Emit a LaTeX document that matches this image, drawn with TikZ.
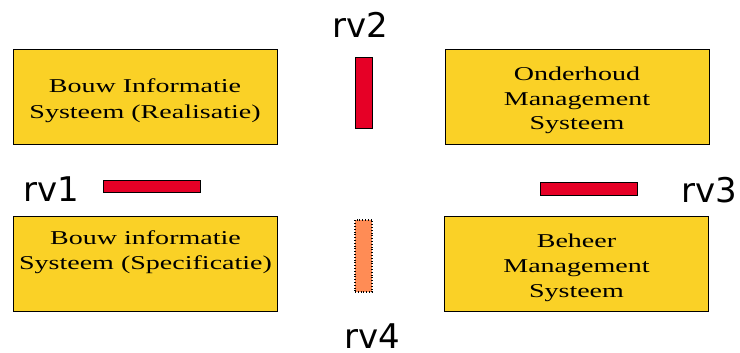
\documentclass[tikz,border=0pt]{standalone}
\usepackage{fontspec}
\usepackage{tikz}
\usetikzlibrary{positioning}
\newfontfamily\boxfont[FakeStretch=1.43]{Liberation Serif}
\newfontfamily\labfont{DejaVu Sans}
\definecolor{sysyellow}{RGB}{250,209,38}
\definecolor{rvred}{RGB}{230,0,38}
\definecolor{rvorange}{RGB}{255,140,85}

\begin{document}
\begin{tikzpicture}[x=1pt,y=-1pt,
	sysbox/.style={rectangle,draw=black,line width=0.8pt,fill=sysyellow,minimum width=264pt,minimum height=95pt,align=center,inner sep=0pt,text depth=5pt,font=\boxfont\fontsize{19.6}{25}\selectfont},
	hbar/.style={rectangle,draw=black,line width=0.8pt,fill=rvred,minimum width=97pt,minimum height=12pt,inner sep=0pt},
	vbar/.style={rectangle,draw=black,line width=0.8pt,fill=rvred,minimum width=17pt,minimum height=71pt,inner sep=0pt},
	rvlab/.style={anchor=base,inner sep=0pt,font=\labfont\fontsize{34}{40}\selectfont}]
	\useasboundingbox (0,0) rectangle (740,353);
	% systemen
	\node[sysbox,text height=47pt] (bisr) at (145,97) {Bouw Informatie\\Systeem (Realisatie)};
	\node[sysbox,text height=72pt] (oms) at (577,96.5) {Onderhoud\\Management\\Systeem};
	\node[sysbox,text height=16pt] (biss) at (145.5,263.5) {Bouw informatie\\Systeem (Specificatie)};
	\node[sysbox,text height=71pt] (bms) at (576.5,264) {Beheer\\Management\\Systeem};
	% raakvlakken
	\node[hbar] (rv1) at (151.5,186) {};
	\node[vbar] (rv2) at (363.5,92.5) {};
	\node[hbar,minimum height=13pt] (rv3) at (588.5,188.5) {};
	\node[vbar,fill=rvorange,dotted,line width=1.2pt,minimum height=72pt] (rv4) at (363.5,256) {};
	\node[rvlab] (l1) at (51,201) {rv1};
	\node[rvlab] (l2) at (360,38) {rv2};
	\node[rvlab] (l3) at (709,202) {rv3};
	\node[rvlab] (l4) at (372,348) {rv4};
\end{tikzpicture}
\end{document}
